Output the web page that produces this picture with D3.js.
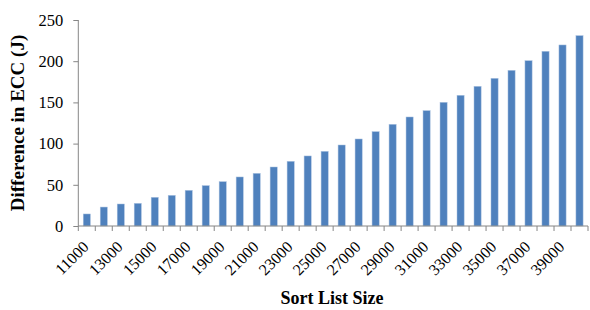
<!DOCTYPE html>
<html>
<head>
<meta charset="utf-8">
<script src="https://d3js.org/d3.v7.min.js"></script>
<style>
  body { margin: 0; background: white; }
  text { font-family: "Liberation Serif", "Times New Roman", serif; fill: #000; }
</style>
</head>
<body>
<div id="chart"></div>
<script>
// sort list sizes and the measured ECC difference (J)
var sizes = d3.range(11000, 41000, 1000);
var eccDiff = [14.6, 23, 26.7, 27.5, 34.8, 37.2, 43.3, 49, 53.8, 59.5,
               63.9, 71.6, 78.5, 85, 90.6, 98.3, 105.6, 114.5, 123.4, 132.3,
               140, 150.1, 158.6, 169.5, 179.2, 188.9, 200.6, 212, 219.7, 231];
var yTicks = [0, 50, 100, 150, 200, 250];

var data = sizes.map((s, i) => ({size: s, value: eccDiff[i]}));

var margin = {top: 20, right: 2, bottom: 84, left: 78.3},
    width = 590 - margin.left - margin.right,
    height = 310 - margin.top - margin.bottom;

var svg = d3.select("#chart").append("svg")
    .attr("width", 590).attr("height", 310);

var g = svg.append("g")
    .attr("transform", "translate(" + margin.left + "," + margin.top + ")");

var x = d3.scaleBand().domain(sizes).range([0, width]).paddingInner(0.58).paddingOuter(0.29);
var y = d3.scaleLinear().domain([0, 250]).range([height, 0]);

// bars
g.selectAll(".bar")
  .data(data)
  .enter().append("rect")
  .attr("class", "bar")
  .attr("x", d => x(d.size))
  .attr("y", d => y(d.value))
  .attr("width", x.bandwidth())
  .attr("height", d => height - y(d.value))
  .style("fill", "#4f81bd")
  .style("stroke", "#a9c1e0")
  .style("stroke-width", 0.5);

// y axis
var yAxis = g.append("g")
  .call(d3.axisLeft(y).tickValues(yTicks).tickSize(5).tickPadding(10));
yAxis.selectAll("line, path").attr("stroke", "#868686");
yAxis.select(".domain").attr("d", "M0," + height + "V0");
yAxis.selectAll("text")
  .style("font-size", "16.5px")
  .style("font-family", "Liberation Serif");

// x axis: ticks at band edges
var step = x.step();
var xAxis = g.append("g").attr("transform", "translate(0," + height + ")");
xAxis.append("line")
  .attr("x1", 0).attr("x2", width)
  .attr("stroke", "#868686");
xAxis.selectAll(".tk")
  .data(d3.range(sizes.length + 1))
  .enter().append("line")
  .attr("x1", i => i * step).attr("x2", i => i * step)
  .attr("y1", 0).attr("y2", 5)
  .attr("stroke", "#868686");

xAxis.selectAll(".lbl")
  .data(sizes.filter((s, i) => i % 2 === 0))
  .enter().append("text")
  .attr("text-anchor", "end")
  .attr("transform", d => "translate(" + (x(d) + x.bandwidth() / 2 - 5) + ",14) rotate(-45)")
  .attr("dy", "0.7em")
  .style("font-size", "16px")
  .text(d => d);

// titles
svg.append("text")
  .attr("transform", "translate(24," + (margin.top + height / 2) + ") rotate(-90)")
  .attr("text-anchor", "middle")
  .style("font-size", "19px")
  .style("font-weight", "bold")
  .text("Difference in ECC (J)");

svg.append("text")
  .attr("x", 332)
  .attr("y", 304)
  .attr("text-anchor", "middle")
  .style("font-size", "18px")
  .style("font-weight", "bold")
  .text("Sort List Size");
</script>
</body>
</html>
